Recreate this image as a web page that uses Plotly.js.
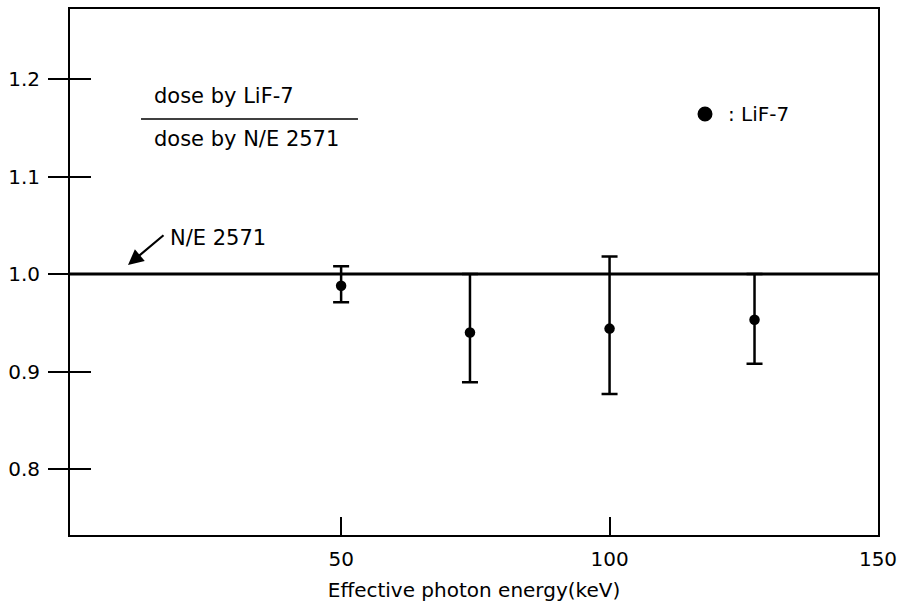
<!DOCTYPE html>
<html>
<head>
<meta charset="utf-8">
<script src="https://cdn.plot.ly/plotly-3.0.1.min.js"></script>
<style>html,body{margin:0;padding:0;background:#fff;}#chart{width:899px;height:605px;}</style>
</head>
<body>
<div id="chart"></div>
<script>
// Data
const energy = [50, 74, 100, 127];                 // Effective photon energy (keV)
const ratio = [0.988, 0.940, 0.944, 0.953];         // dose by LiF-7 / dose by N/E 2571
const errPlus = [0.020, 0.060, 0.074, 0.047];
const errMinus = [0.017, 0.051, 0.067, 0.045];
const referenceLevel = 1.0;                          // N/E 2571 reference
const xTicks = [50, 100, 150];
const xTickText = ['50', '100', '150'];
const yTicks = [0.8, 0.9, 1.0, 1.1, 1.2];
const yTickText = ['0.8', '0.9', '1.0', '1.1', '1.2'];
const seriesName = 'LiF-7';

const FONT = 'DejaVu Sans, Verdana, sans-serif';
const xRange = [-0.5, 150];
const yRange = [0.7323, 1.2718];

const trace = {
  type: 'scatter', mode: 'markers', name: seriesName,
  x: energy, y: ratio, xaxis: 'x', yaxis: 'y',
  marker: {color: 'black', size: 10.5},
  error_y: {type: 'data', symmetric: false, array: errPlus, arrayminus: errMinus,
            color: 'black', thickness: 2.5, width: 8},
  hoverinfo: 'skip', showlegend: false
};
// empty helper trace so the overlaying axis (inner half of the crossing ticks) is drawn
const axisHelper = {type: 'scatter', mode: 'markers', x: [], y: [], xaxis: 'x', yaxis: 'y2',
  hoverinfo: 'skip', showlegend: false};

const layout = {
  width: 899, height: 605,
  margin: {l: 70, r: 21, t: 9, b: 70, pad: 0},
  paper_bgcolor: 'white', plot_bgcolor: 'white',
  showlegend: false,
  font: {family: FONT, size: 20, color: 'black'},
  xaxis: {
    range: xRange, tickvals: xTicks, ticktext: xTickText,
    ticks: 'inside', ticklen: 18, tickwidth: 2, tickcolor: 'black',
    showline: true, linewidth: 2, linecolor: 'black', mirror: true,
    showgrid: false, zeroline: false, ticklabelstandoff: 5,
    tickfont: {family: FONT, size: 20, color: 'black'},
    title: {text: 'Effective photon energy(keV)', standoff: 13, font: {family: FONT, size: 20, color: 'black'}}
  },
  yaxis: {
    range: yRange, tickvals: yTicks, ticktext: yTickText,
    ticks: 'outside', ticklen: 20, tickwidth: 2, tickcolor: 'black',
    showline: true, linewidth: 2, linecolor: 'black', mirror: true,
    showgrid: false, zeroline: false, ticklabelstandoff: 4,
    tickfont: {family: FONT, size: 20, color: 'black'}
  },
  yaxis2: {
    overlaying: 'y', anchor: 'x', side: 'left',
    range: yRange, tickvals: yTicks, ticktext: yTickText,
    ticks: 'inside', ticklen: 21, tickwidth: 2, tickcolor: 'black',
    showticklabels: false, showline: false, showgrid: false, zeroline: false
  },
  shapes: [
    {type: 'line', xref: 'paper', x0: 0, x1: 1, yref: 'y', y0: referenceLevel, y1: referenceLevel,
     line: {color: 'black', width: 3}},
    {type: 'line', xref: 'paper', yref: 'paper', x0: 0.0879, x1: 0.3564, y0: 0.7909, y1: 0.7909,
     line: {color: 'black', width: 1.5}},
    {type: 'circle', xref: 'paper', yref: 'paper', xsizemode: 'pixel', ysizemode: 'pixel',
     xanchor: 0.7859, yanchor: 0.8004, x0: -7.5, x1: 7.5, y0: -7.5, y1: 7.5,
     fillcolor: 'black', line: {color: 'black', width: 0}}
  ],
  annotations: [
    {xref: 'paper', yref: 'paper', x: 0.1015, y: 0.8346, xanchor: 'left', yanchor: 'middle',
     text: 'dose by ' + seriesName, showarrow: false, font: {family: FONT, size: 21, color: 'black'}},
    {xref: 'paper', yref: 'paper', x: 0.1015, y: 0.7529, xanchor: 'left', yanchor: 'middle',
     text: 'dose by N/E 2571', showarrow: false, font: {family: FONT, size: 21, color: 'black'}},
    {xref: 'paper', yref: 'paper', x: 0.1213, y: 0.5646, xanchor: 'left', yanchor: 'middle',
     text: 'N/E 2571', showarrow: false, font: {family: FONT, size: 21, color: 'black'}},
    {xref: 'paper', yref: 'paper', x: 0.0718, y: 0.5133, text: '', showarrow: true,
     ax: 37, ay: -31, arrowhead: 2, arrowsize: 1.4, arrowwidth: 2.2, arrowcolor: 'black'},
    {xref: 'paper', yref: 'paper', x: 0.8119, y: 0.8004, xanchor: 'left', yanchor: 'middle',
     text: ': ' + seriesName, showarrow: false, font: {family: FONT, size: 20, color: 'black'}}
  ]
};

Plotly.newPlot('chart', [trace, axisHelper], layout, {displayModeBar: false, staticPlot: true});
</script>
</body>
</html>
